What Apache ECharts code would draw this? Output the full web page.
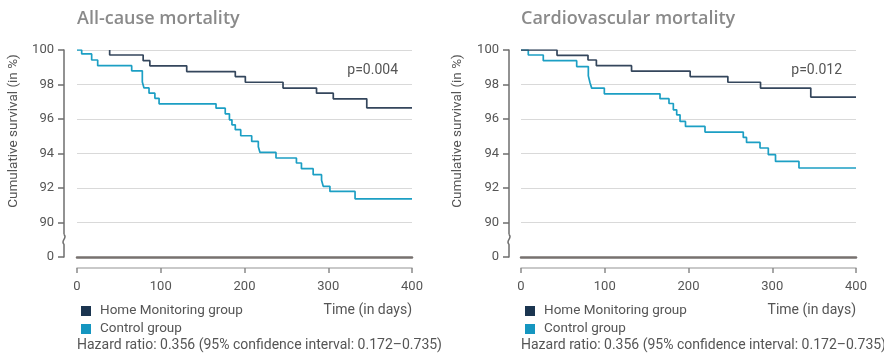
<!DOCTYPE html>
<html>
<head>
<meta charset="utf-8">
<script src="https://cdn.jsdelivr.net/npm/echarts@6/dist/echarts.min.js"></script>
<style>html,body{margin:0;padding:0;background:#fff}#c{width:884px;height:355px}</style>
</head>
<body>
<div id="c"></div>
<script>
// ---- data (days, cumulative survival %) ----
const allHomeDays = [39, 39, 79, 87, 131, 189, 201, 246, 286, 306, 346, 400];
const allHomeSurv = [100, 99.71, 99.38, 99.08, 98.75, 98.46, 98.13, 97.79, 97.5, 97.17, 96.65, 96.65];
const allCtrlDays = [0, 5.6, 17.5, 24.7, 65.3, 78, 80, 86, 93, 98, 166, 177, 182, 185, 189, 195.5, 208.6, 216.5, 218.5, 237.6, 262, 268, 282, 292, 294, 302, 332, 400];
const allCtrlSurv = [100, 99.77, 99.42, 99.09, 98.79, 98.15, 97.8, 97.5, 97.2, 96.88, 96.63, 96.3, 95.95, 95.66, 95.38, 95.03, 94.7, 94.39, 94.06, 93.74, 93.45, 93.12, 92.77, 92.45, 92.1, 91.8, 91.37, 91.37];
const cvHomeDays = [0, 43, 80, 90, 132, 202, 247, 286, 346, 400];
const cvHomeSurv = [100, 99.69, 99.42, 99.09, 98.77, 98.46, 98.13, 97.79, 97.27, 97.27];
const cvCtrlDays = [0, 8.7, 26.6, 66.5, 80.4, 82.4, 84.4, 99.5, 166, 176.7, 181.9, 185.9, 189.9, 196.4, 219.7, 265.4, 269.3, 285.4, 295.3, 303.9, 331.9, 400];
const cvCtrlSurv = [100, 99.71, 99.38, 99.04, 98.5, 98.1, 97.79, 97.46, 97.18, 96.9, 96.53, 96.24, 95.86, 95.57, 95.24, 94.93, 94.64, 94.32, 93.93, 93.54, 93.16, 93.16];

const xTicks = [0, 100, 200, 300, 400];
const yTickValues = [88, 90, 92, 94, 96, 98, 100];
const yTickLabels = ['0', '90', '92', '94', '96', '98', '100'];

const panelTitles = ['All-cause mortality', 'Cardiovascular mortality'];
const pValues = ['p=0.004', 'p=0.012'];
const seriesNames = ['Home Monitoring group', 'Control group'];
const yAxisTitle = 'Cumulative survival (in %)';
const xAxisTitle = 'Time (in days)';
const hazardText = 'Hazard ratio: 0.356 (95% confidence interval: 0.172\u20130.735)';

// ---- styling ----
const FONT = 'Roboto, "Open Sans", sans-serif';
const HOME_LINE = '#34465c', CTRL_LINE = '#1c9fc4';
const HOME_KEY = '#1b3550', CTRL_KEY = '#1596c0';
const TXT = '#555555';
const AXC = '#6e6e6e';
const panels = [{left: 77, top: 50, width: 335, height: 207, yOff: 13}, {left: 521, top: 50, width: 335, height: 207, yOff: 12}];

const zip = (a, b) => a.map((d, i) => [d, b[i]]);
const chart = echarts.init(document.getElementById('c'), null, {renderer: 'canvas'});

const grids = [], xAxes = [], yAxes = [], series = [], legends = [];
panels.forEach((g, gi) => {
  // main plotting grid
  grids.push({left: g.left, top: g.top, width: g.width, height: g.height});
  // thin grid carrying the detached time axis
  grids.push({left: g.left, top: g.top + g.height + 10, width: g.width, height: 1});
  const mainIdx = gi * 2, axIdx = gi * 2 + 1;
  xAxes.push({
    gridIndex: mainIdx, type: 'value', min: 0, max: 400, interval: 100, position: 'bottom',
    axisLine: {show: true, onZero: false, lineStyle: {color: '#77716f', width: 2.5}},
    axisTick: {show: false}, axisLabel: {show: false}, splitLine: {show: false}
  });
  xAxes.push({
    gridIndex: axIdx, type: 'value', min: 0, max: 400, interval: 100, position: 'bottom',
    axisLine: {show: true, onZero: false, lineStyle: {color: '#b8b8b8', width: 1.5}},
    axisTick: {show: true, length: 5, lineStyle: {color: '#8a8a8a', width: 1.5}},
    axisLabel: {color: TXT, fontSize: 13, fontFamily: FONT, margin: 12,
      formatter: v => (xTicks.indexOf(v) >= 0 ? String(v) : '')},
    splitLine: {show: false}
  });
  yAxes.push({
    gridIndex: mainIdx, type: 'value', min: 88, max: 100, interval: 2, offset: g.yOff, position: 'left',
    axisLine: {show: true, onZero: false, lineStyle: {color: AXC, width: 1.5}},
    axisTick: {show: true, length: 6, lineStyle: {color: AXC, width: 1.5}},
    axisLabel: {color: TXT, fontSize: 13, fontFamily: FONT, margin: 10,
      formatter: v => { const i = yTickValues.indexOf(v); return i >= 0 ? yTickLabels[i] : ''; }},
    splitLine: {show: true, lineStyle: {color: '#d9d9d9', width: 1}}
  });
  yAxes.push({gridIndex: axIdx, type: 'value', min: 0, max: 1, show: false});
  legends.push({
    left: g.left - 1, top: 299, orient: 'vertical', itemWidth: 10, itemHeight: 10, itemGap: 4,
    icon: 'rect', selectedMode: false,
    textStyle: {color: TXT, fontSize: 13.5, fontFamily: FONT, lineHeight: 14, padding: [0, 0, 0, 4]},
    data: [{name: seriesNames[0], itemStyle: {color: HOME_KEY}}, {name: seriesNames[1], itemStyle: {color: CTRL_KEY}}]
  });
});

const sets = [[allHomeDays, allHomeSurv, allCtrlDays, allCtrlSurv], [cvHomeDays, cvHomeSurv, cvCtrlDays, cvCtrlSurv]];
sets.forEach((s, gi) => {
  series.push({name: seriesNames[1], type: 'line', step: 'end', xAxisIndex: gi * 2, yAxisIndex: gi * 2,
    data: zip(s[2], s[3]), showSymbol: false, color: CTRL_KEY, lineStyle: {color: CTRL_LINE, width: 1.7}, silent: true, animation: false});
  series.push({name: seriesNames[0], type: 'line', step: 'end', xAxisIndex: gi * 2, yAxisIndex: gi * 2,
    data: zip(s[0], s[1]), showSymbol: false, color: HOME_KEY, lineStyle: {color: HOME_LINE, width: 1.7}, silent: true, animation: false});
});

chart.setOption({
  animation: false,
  grid: grids,
  xAxis: xAxes, yAxis: yAxes, legend: legends, series: series
});

// texts and axis-break decoration
const graphics = [];
panels.forEach((g, gi) => {
  const right = g.left + g.width;
  graphics.push({type: 'text', x: g.left, y: 18.5, style: {text: panelTitles[gi], fill: '#8a8a8a', font: '600 18px "Open Sans", sans-serif', textVerticalAlign: 'middle'}});
  graphics.push({type: 'text', x: right - 14, y: 70, style: {text: pValues[gi], fill: TXT, font: '14px ' + FONT, textAlign: 'right', textVerticalAlign: 'middle'}});
  graphics.push({type: 'text', x: right, y: 310, style: {text: xAxisTitle, fill: TXT, font: '14px ' + FONT, textAlign: 'right', textVerticalAlign: 'middle'}});
  graphics.push({type: 'text', x: g.left, y: 345, style: {text: hazardText, fill: TXT, font: '14px ' + FONT, textVerticalAlign: 'middle'}});
  graphics.push({type: 'text', x: g.left - 63, y: 131, rotation: Math.PI / 2,
    style: {text: yAxisTitle, fill: TXT, font: '13.5px ' + FONT, textAlign: 'center', textVerticalAlign: 'middle'}});
  const ax = g.left - g.yOff;
  const yTop = chart.convertToPixel({yAxisIndex: gi * 2}, 89.3);
  const yBot = chart.convertToPixel({yAxisIndex: gi * 2}, 88.75);
  graphics.push({type: 'rect', shape: {x: ax - 3, y: yTop, width: 6, height: yBot - yTop}, style: {fill: '#ffffff'}, z: 100});
  graphics.push({type: 'bezierCurve', shape: {x1: ax, y1: yTop, x2: ax, y2: yBot, cpx1: ax + 4, cpy1: yTop + 3, cpx2: ax - 4, cpy2: yBot - 3},
    style: {stroke: AXC, lineWidth: 1.5, fill: null}, z: 101});
});
chart.setOption({graphic: graphics});
</script>
</body>
</html>
